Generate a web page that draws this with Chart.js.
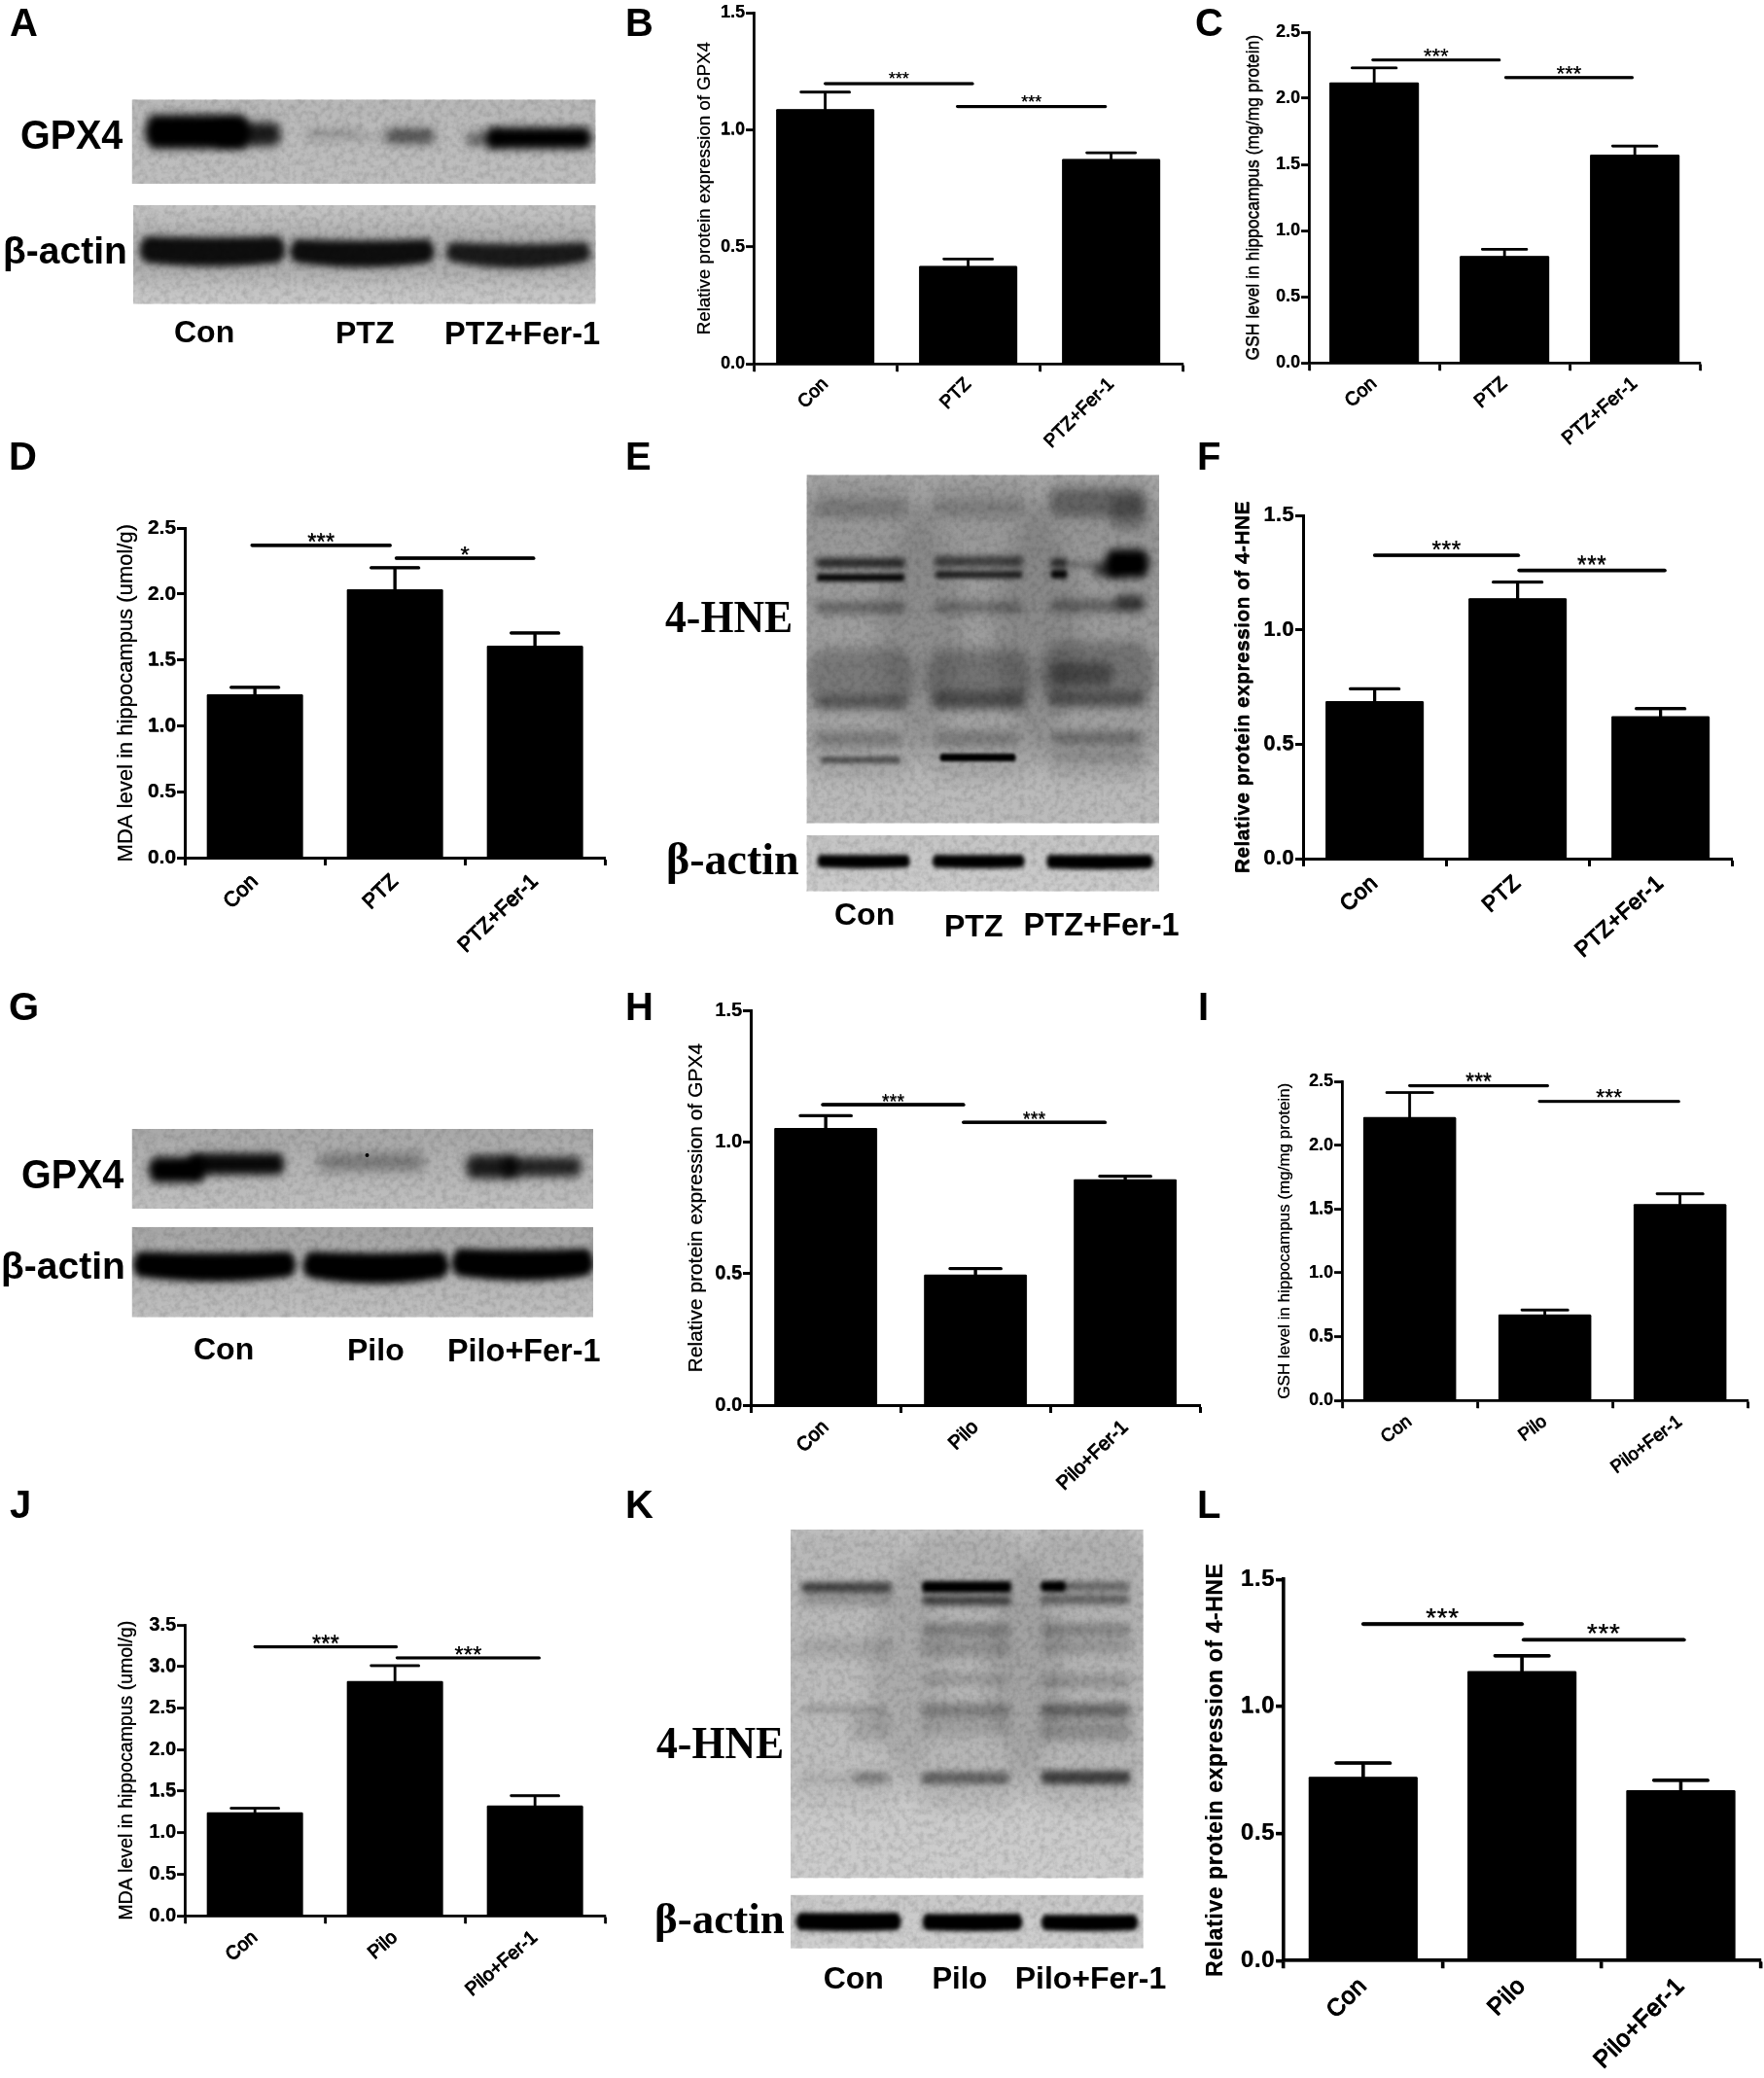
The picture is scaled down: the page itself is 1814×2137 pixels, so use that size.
<!DOCTYPE html>
<html>
<head>
<meta charset="utf-8">
<script src="https://cdn.jsdelivr.net/npm/chart.js@4"></script>
<style>
html, body { margin: 0; background: #fff; }
#page { position: relative; width: 1814px; height: 2137px; overflow: hidden; background: #fff; }
#page canvas, #page svg { position: absolute; display: block; }
.lbl { position: absolute; white-space: nowrap; color: #000; line-height: 1; transform-origin: 0 100%; }
</style>
</head>
<body>
<div id="page"><canvas id="blots" width="1814" height="2137" style="left:0;top:0"></canvas></div>
<svg width="0" height="0" style="left:0;top:0"><filter id="grain" x="0" y="0" width="100%" height="100%">
  <feTurbulence type="fractalNoise" baseFrequency="0.16" numOctaves="3" seed="7"/>
  <feColorMatrix type="matrix" values="0 0 0 0 0  0 0 0 0 0  0 0 0 0 0  0 0 0 1.6 -0.62"/>
  <feGaussianBlur stdDeviation="0.7"/>
</filter></svg>
<script>
const groupsPtz = ['Con', 'PTZ', 'PTZ+Fer-1'];
const groupsPilo = ['Con', 'Pilo', 'Pilo+Fer-1'];

// bar heights and the top of each error bar
const gpx4PtzMeans = [1.088, 0.418, 0.875];
const gpx4PtzTops = [1.161, 0.448, 0.902];
const gshPtzMeans = [2.12, 0.807, 1.573];
const gshPtzTops = [2.23, 0.859, 1.639];
const mdaPtzMeans = [1.239, 2.036, 1.607];
const mdaPtzTops = [1.293, 2.2, 1.705];
const hnePtzMeans = [0.688, 1.138, 0.622];
const hnePtzTops = [0.743, 1.209, 0.656];
const gpx4PiloMeans = [1.053, 0.496, 0.858];
const gpx4PiloTops = [1.1, 0.519, 0.87];
const gshPiloMeans = [2.219, 0.672, 1.537];
const gshPiloTops = [2.413, 0.708, 1.619];
const mdaPiloMeans = [1.245, 2.824, 1.325];
const mdaPiloTops = [1.294, 3.01, 1.445];
const hnePiloMeans = [0.722, 1.138, 0.67];
const hnePiloTops = [0.777, 1.199, 0.709];

// significance bars: [from category, to category, level, stars]
const gpx4PtzSig = [[0, 1.03, 1.197, '***'], [0.925, 1.96, 1.099, '***']];
const gshPtzSig = [[-0.01, 0.96, 2.29, '***'], [1.01, 1.98, 2.157, '***']];
const mdaPtzSig = [[-0.02, 0.965, 2.37, '***'], [1.01, 1.99, 2.272, '*']];
const hnePtzSig = [[0, 1.005, 1.326, '***'], [1.01, 2.03, 1.26, '***']];
const gpx4PiloSig = [[-0.02, 0.92, 1.142, '***'], [0.92, 1.865, 1.075, '***']];
const gshPiloSig = [[0, 1.02, 2.466, '***'], [0.96, 1.99, 2.343, '***']];
const mdaPiloSig = [[0, 1.01, 3.237, '***'], [1.015, 2.03, 3.104, '***']];
const hnePiloSig = [[0, 1, 1.324, '***'], [1.01, 2.02, 1.262, '***']];

const titleGpx4 = 'Relative protein expression of GPX4';
const titleHne = 'Relative protein expression of 4-HNE';
const titleGsh = 'GSH level in hippocampus (mg/mg protein)';
const titleMda = 'MDA level in hippocampus (umol/g)';

const page = document.getElementById('page');
const Y_AXIS_W = 120, X_AXIS_H = 130, PAD_TOP = 22, PAD_RIGHT = 8;
Chart.defaults.font.family = '"Liberation Sans", Arial, sans-serif';
Chart.defaults.color = '#000';

function panelMarks(p) {
    return {
        id: 'panelMarks',
        beforeDraw(chart) {
            const ctx = chart.ctx;
            ctx.letterSpacing = (p.spacing || 0) + 'px';
            // the source figure is soft and heavy, a small shadow thickens the thin text
            ctx.shadowColor = 'rgba(0,0,0,0.75)';
            ctx.shadowOffsetX = 0.35;
            ctx.shadowOffsetY = 0.35;
            ctx.shadowBlur = 0.4;
        },
        afterDatasetsDraw(chart) {
            const { ctx, scales: { x, y } } = chart;
            const step = x.getPixelForValue(1) - x.getPixelForValue(0);
            ctx.save();
            ctx.strokeStyle = '#000';
            ctx.lineCap = 'round';
            ctx.lineWidth = p.line;
            p.tops.forEach((top, i) => {
                const px = x.getPixelForValue(i);
                const yTop = y.getPixelForValue(top);
                ctx.beginPath();
                ctx.moveTo(px, y.getPixelForValue(p.means[i]));
                ctx.lineTo(px, yTop);
                ctx.moveTo(px - step * 0.17, yTop);
                ctx.lineTo(px + step * 0.17, yTop);
                ctx.stroke();
            });
            ctx.fillStyle = '#000';
            ctx.textAlign = 'center';
            ctx.textBaseline = 'alphabetic';
            ctx.font = p.starSize + 'px "Liberation Sans"';
            p.sig.forEach(([from, to, level, stars]) => {
                const x0 = x.getPixelForValue(from);
                const x1 = x.getPixelForValue(to);
                const py = y.getPixelForValue(level);
                ctx.lineWidth = p.line + 0.3;
                ctx.beginPath();
                ctx.moveTo(x0, py);
                ctx.lineTo(x1, py);
                ctx.stroke();
                ctx.fillText(stars, (x0 + x1) / 2, py + p.starDrop);
            });
            ctx.restore();
        },
    };
}

function addPanel(p) {
    const left = p.axisX - Y_AXIS_W;
    const top = p.topY - PAD_TOP;
    const canvas = document.createElement('canvas');
    canvas.width = Y_AXIS_W + (p.endX - p.axisX) + PAD_RIGHT;
    canvas.height = PAD_TOP + (p.baseY - p.topY) + X_AXIS_H;
    canvas.style.left = left + 'px';
    canvas.style.top = top + 'px';
    page.appendChild(canvas);
    const titleLine = p.titleSize * 1.2;

    new Chart(canvas, {
        type: 'bar',
        data: {
            labels: p.labels,
            datasets: [{
                data: p.means,
                backgroundColor: '#000',
                barPercentage: 0.685,
                categoryPercentage: 1,
                borderRadius: 1,
            }],
        },
        options: {
            responsive: false,
            animation: false,
            layout: { padding: { top: PAD_TOP, right: PAD_RIGHT, left: 0, bottom: 0 } },
            plugins: { legend: { display: false }, tooltip: { enabled: false }, title: { display: false } },
            scales: {
                x: {
                    afterFit: scale => { scale.height = X_AXIS_H; },
                    border: { color: '#000', width: p.line },
                    grid: { display: true, drawOnChartArea: false, color: '#000', tickColor: '#000', tickLength: 8, tickWidth: p.line },
                    ticks: {
                        color: '#000',
                        autoSkip: false,
                        minRotation: p.rotation,
                        maxRotation: p.rotation,
                        padding: p.xPad,
                        textStrokeColor: '#000',
                        textStrokeWidth: p.xStroke,
                        font: { size: p.xSize },
                    },
                },
                y: {
                    min: 0,
                    max: p.yMax,
                    afterFit: scale => { scale.width = Y_AXIS_W; },
                    border: { color: '#000', width: p.line },
                    grid: { display: true, drawOnChartArea: false, color: '#000', tickColor: '#000', tickLength: 8, tickWidth: p.line },
                    ticks: {
                        color: '#000',
                        stepSize: 0.5,
                        padding: 1,
                        font: { size: p.ySize, weight: 'bold' },
                        callback: v => v.toFixed(1),
                    },
                    title: {
                        display: true,
                        text: p.title,
                        color: '#000',
                        font: { size: p.titleSize, weight: p.titleWeight || 'normal' },
                        padding: { top: p.titleX - left - titleLine / 2, bottom: 0 },
                    },
                },
            },
        },
        plugins: [panelMarks(p)],
    });
}

addPanel({ labels: groupsPtz, means: gpx4PtzMeans, tops: gpx4PtzTops, sig: gpx4PtzSig, yMax: 1.5, title: titleGpx4,
    axisX: 775, endX: 1216, topY: 12.7, baseY: 374, titleX: 724.6, titleSize: 18.7, ySize: 18, xSize: 19, xStroke: 0.5, rotation: 45, xPad: 2, line: 2.5, starSize: 18, starDrop: 1 });
addPanel({ labels: groupsPtz, means: gshPtzMeans, tops: gshPtzTops, sig: gshPtzSig, yMax: 2.5, title: titleGsh,
    axisX: 1346, endX: 1748, topY: 33.3, baseY: 374, titleX: 1289.4, titleSize: 17.5, ySize: 18, xSize: 19.5, xStroke: 0.5, rotation: 41, xPad: 2, line: 2.5, starSize: 22, starDrop: 3.5 });
addPanel({ labels: groupsPtz, means: mdaPtzMeans, tops: mdaPtzTops, sig: mdaPtzSig, yMax: 2.5, title: titleMda,
    axisX: 190, endX: 622, topY: 542.7, baseY: 882.3, titleX: 129.8, titleSize: 22, ySize: 21, xSize: 21.5, xStroke: 0.7, rotation: 44, xPad: 4, line: 3, starSize: 24, starDrop: 4.6 });
addPanel({ labels: groupsPtz, means: hnePtzMeans, tops: hnePtzTops, sig: hnePtzSig, yMax: 1.5, title: titleHne,
    axisX: 1339.6, endX: 1781, topY: 530, baseY: 883.6, titleX: 1278, titleSize: 21, titleWeight: 'bold', spacing: 0.4, ySize: 22, xSize: 22.5, xStroke: 0.8, rotation: 42, xPad: 4, line: 3, starSize: 25, starDrop: 3 });
addPanel({ labels: groupsPilo, means: gpx4PiloMeans, tops: gpx4PiloTops, sig: gpx4PiloSig, yMax: 1.5, title: titleGpx4,
    axisX: 771.8, endX: 1234, topY: 1039.3, baseY: 1445.6, titleX: 715.7, titleSize: 21, ySize: 20, xSize: 20, xStroke: 0.6, rotation: 44, xPad: 3, line: 3, starSize: 20, starDrop: 3.4 });
addPanel({ labels: groupsPilo, means: gshPiloMeans, tops: gshPiloTops, sig: gshPiloSig, yMax: 2.5, title: titleGsh,
    axisX: 1379.5, endX: 1797, topY: 1112.3, baseY: 1440.5, titleX: 1320.5, titleSize: 17, ySize: 18, xSize: 18.5, xStroke: 0.5, rotation: 37, xPad: 3, line: 2.5, starSize: 23, starDrop: 4 });
addPanel({ labels: groupsPilo, means: mdaPiloMeans, tops: mdaPiloTops, sig: mdaPiloSig, yMax: 3.5, title: titleMda,
    axisX: 190, endX: 622, topY: 1671, baseY: 1970.7, titleX: 130.6, titleSize: 19.5, ySize: 20, xSize: 19.5, xStroke: 0.6, rotation: 41, xPad: 3, line: 2.5, starSize: 24, starDrop: 5 });
addPanel({ labels: groupsPilo, means: hnePiloMeans, tops: hnePiloTops, sig: hnePiloSig, yMax: 1.5, title: titleHne,
    axisX: 1319.6, endX: 1810, topY: 1623.5, baseY: 2016, titleX: 1250, titleSize: 23, titleWeight: 'bold', spacing: 0.6, ySize: 24, xSize: 24.5, xStroke: 0.9, rotation: 45, xPad: 4, line: 3.3, starSize: 28, starDrop: 2.7 });

// blot pictures: each band is [x0, x1, y0, y1, darkness, blur, curve]
const blotPictures = [
    { box: [135.5, 102.3, 612.6, 189], shade: ['#b8b8b8', '#bfbfbf'], bands: [
        [156, 250, 118, 153, 1, 4, 0], [225, 284, 126, 150, 0.85, 5, 0],
        [316, 368, 133, 143, 0.2, 5, 0], [368, 400, 138, 145, 0.1, 4, 0], [400, 444, 132, 148, 0.55, 5, 0],
        [482, 515, 136, 150, 0.45, 5, 0], [504, 604, 131, 153, 1, 4, 0],
    ] },
    { box: [137, 211, 612.6, 312.7], shade: ['#c2c2c2', '#c8c8c8'], bands: [
        [137, 612, 232, 290, 0.12, 9, 0],
        [150, 287, 243, 274, 0.92, 3.5, 4], [304, 441, 246, 275, 0.92, 3.5, 5], [464, 602, 249, 276, 0.85, 3.5, 7],
    ] },
    { box: [829.4, 488.3, 1192, 846.7], shade: ['#a6a6a6', '#bcbcbc'], bands: [
        [841, 929, 495, 800, 0.1, 8, 0], [963, 1050, 495, 800, 0.1, 8, 0], [1082, 1174, 495, 800, 0.12, 8, 0],
        [841, 929, 513, 532, 0.2, 5, 0], [963, 1050, 513, 532, 0.16, 5, 0], [1085, 1172, 503, 532, 0.33, 5, 0], [1148, 1172, 510, 545, 0.25, 5, 0],
        [841, 929, 574, 584, 0.75, 3, 0], [841, 929, 590, 598, 0.95, 2.2, 0], [963, 1050, 572, 583, 0.6, 3, 0], [963, 1050, 587, 595, 0.75, 2.2, 0],
        [1082, 1096, 574, 584, 0.7, 3, 0], [1082, 1096, 586, 595, 0.95, 2.2, 0], [1100, 1130, 578, 584, 0.3, 3, 0],
        [1142, 1176, 565, 594, 1, 4, 0], [1128, 1150, 579, 593, 0.65, 4, 0],
        [841, 929, 619, 631, 0.36, 4, 0], [963, 1050, 619, 630, 0.32, 4, 0], [1082, 1174, 617, 629, 0.38, 4, 0], [1150, 1174, 611, 627, 0.5, 4, 0],
        [841, 929, 667, 727, 0.24, 6, 0], [841, 929, 715, 729, 0.32, 4, 0], [963, 1050, 668, 727, 0.28, 6, 0], [963, 1050, 711, 729, 0.36, 4, 0],
        [1082, 1174, 660, 727, 0.26, 6, 0], [1084, 1140, 681, 705, 0.38, 5, 0], [1082, 1174, 711, 726, 0.32, 4, 0],
        [841, 925, 752, 768, 0.24, 4, 0], [963, 1045, 751, 768, 0.24, 4, 0], [1084, 1172, 752, 766, 0.32, 4, 0], [1084, 1172, 771, 783, 0.14, 4, 0],
        [845, 925, 778, 785, 0.5, 2, 0], [968, 1043, 775, 783, 1, 1.6, 0],
    ] },
    { box: [829.4, 859, 1192, 916.7], shade: ['#c4c4c4', '#cccccc'], bands: [
        [843, 933, 879, 893, 1, 2, 1], [961.5, 1051, 879, 893, 1, 2, 1], [1079, 1183, 879, 894, 1, 2, 1],
    ] },
    { box: [135.5, 1161, 610, 1243], shade: ['#a8a8a8', '#c0c0c0'], bands: [
        [158, 206, 1190, 1216, 1, 4, 0], [198, 288, 1186, 1208, 0.95, 4, 0],
        [331, 433, 1186, 1204, 0.32, 6, 0],
        [484, 528, 1188, 1212, 0.85, 5, 0], [520, 594, 1190, 1210, 0.8, 5, 0],
    ] },
    { box: [135.5, 1261.7, 610, 1354.7], shade: ['#a5a5a5', '#c0c0c0'], bands: [
        [143, 298, 1287, 1318, 1, 3.5, 5], [318, 455, 1287, 1320, 1, 3.5, 6], [471, 604, 1284, 1317, 1, 3.5, 5],
    ] },
    { box: [813, 1573, 1175.8, 1931.5], shade: ['#c2c2c2', '#cdcdcd'], bands: [
        [825, 915, 1575, 1860, 0.05, 8, 0], [950, 1038, 1575, 1860, 0.09, 8, 0], [1072, 1160, 1575, 1860, 0.09, 8, 0],
        [826, 915, 1627, 1638, 0.65, 3, 0], [826, 915, 1640, 1651, 0.22, 4, 0], [826, 915, 1685, 1704, 0.1, 5, 0],
        [826, 910, 1754, 1762, 0.18, 3, 0], [880, 910, 1762, 1790, 0.12, 5, 0], [880, 912, 1823, 1834, 0.38, 4, 0], [826, 880, 1824, 1834, 0.09, 4, 0],
        [950, 1038, 1626, 1638, 1, 2.2, 0], [950, 1038, 1641, 1651, 0.65, 3, 0], [950, 1036, 1670, 1682, 0.3, 4, 0], [950, 1036, 1685, 1704, 0.18, 5, 0],
        [950, 1036, 1722, 1732, 0.16, 4, 0], [950, 1036, 1752, 1766, 0.3, 4, 0], [950, 1036, 1768, 1785, 0.12, 5, 0], [950, 1036, 1822, 1835, 0.45, 3, 0],
        [1072, 1094, 1626, 1637, 1, 2.2, 0], [1088, 1160, 1627, 1636, 0.45, 3, 0], [1072, 1160, 1640, 1650, 0.45, 3, 0],
        [1073, 1160, 1670, 1682, 0.28, 4, 0], [1073, 1160, 1686, 1700, 0.18, 5, 0], [1073, 1160, 1722, 1736, 0.18, 4, 0],
        [1073, 1160, 1752, 1766, 0.45, 4, 0], [1073, 1160, 1770, 1790, 0.22, 5, 0], [1073, 1160, 1821, 1835, 0.65, 3, 0],
    ] },
    { box: [813, 1948.6, 1175.8, 2003.8], shade: ['#c8c8c8', '#cfcfcf'], bands: [
        [822, 923, 1967, 1986, 1, 2.2, 1], [952, 1048, 1968, 1986, 1, 2.2, 1], [1074, 1167, 1969, 1986, 1, 2.2, 1],
    ] },
];

function drawBand(ctx, [x0, x1, y0, y1, dark, blur, curve]) {
    const mid = (x0 + x1) / 2;
    const midY = (y0 + y1) / 2;
    const bulge = (y1 - y0) * 0.4;
    ctx.filter = `blur(${blur}px)`;
    ctx.fillStyle = `rgba(0,0,0,${dark})`;
    ctx.beginPath();
    ctx.moveTo(x0, y0);
    ctx.quadraticCurveTo(mid, y0 + curve * 0.6, x1, y0);
    ctx.quadraticCurveTo(x1 + bulge, midY, x1, y1 - curve);
    ctx.quadraticCurveTo(mid, y1 + curve, x0, y1 - curve);
    ctx.quadraticCurveTo(x0 - bulge, midY, x0, y0);
    ctx.closePath();
    ctx.fill();
}

const blotCtx = document.getElementById('blots').getContext('2d');
blotPictures.forEach(({ box: [x0, y0, x1, y1], shade, bands }) => {
    blotCtx.save();
    blotCtx.beginPath();
    blotCtx.rect(x0, y0, x1 - x0, y1 - y0);
    blotCtx.clip();
    const fill = blotCtx.createLinearGradient(0, y0, 0, y1);
    fill.addColorStop(0, shade[0]);
    fill.addColorStop(1, shade[1]);
    blotCtx.fillStyle = fill;
    blotCtx.fillRect(x0, y0, x1 - x0, y1 - y0);
    bands.forEach(band => drawBand(blotCtx, band));
    blotCtx.restore();

    // film grain over the blot
    const grain = document.createElementNS('http://www.w3.org/2000/svg', 'svg');
    grain.setAttribute('width', x1 - x0);
    grain.setAttribute('height', y1 - y0);
    grain.style.left = x0 + 'px';
    grain.style.top = y0 + 'px';
    grain.style.opacity = 0.16;
    grain.innerHTML = '<rect width="100%" height="100%" filter="url(#grain)"/>';
    page.appendChild(grain);
});

// speck on the GPX4 (Pilo) blot
blotCtx.fillStyle = '#000';
blotCtx.beginPath();
blotCtx.arc(377.5, 1188, 2, 0, Math.PI * 2);
blotCtx.fill();

// text: [string, left, baseline, size, stretch, family]
const SANS = '"Liberation Sans"', SERIF = '"Liberation Serif"';
const pageLabels = [
    ['A', 10, 37, 40, 1, SANS], ['B', 643, 37, 40, 1, SANS], ['C', 1229, 37, 40, 1, SANS],
    ['D', 9, 483, 40, 1, SANS], ['E', 643, 483, 40, 1, SANS], ['F', 1231, 483, 40, 1, SANS],
    ['G', 9, 1049, 40, 1, SANS], ['H', 643, 1049, 40, 1, SANS], ['I', 1232, 1049, 40, 1, SANS],
    ['J', 10, 1561, 40, 1, SANS], ['K', 643, 1561, 40, 1, SANS], ['L', 1231, 1561, 40, 1, SANS],
    ['GPX4', 21, 153, 42, 0.94, SANS], ['β-actin', 3, 271, 39, 1, SANS],
    ['Con', 179, 352, 32, 1, SANS], ['PTZ', 345, 352.7, 32, 1, SANS], ['PTZ+Fer-1', 457, 354, 32.6, 1, SANS],
    ['4-HNE', 684, 651, 46, 0.95, SERIF], ['β-actin', 685, 900, 46, 1, SERIF],
    ['Con', 858, 950.7, 32, 1, SANS], ['PTZ', 971, 962.7, 32, 1, SANS], ['PTZ+Fer-1', 1052.5, 962.7, 32.6, 1, SANS],
    ['GPX4', 22.4, 1222, 42, 0.94, SANS], ['β-actin', 1, 1315, 39, 1, SANS],
    ['Con', 199, 1398, 32, 1, SANS], ['Pilo', 357, 1399.3, 32, 1, SANS], ['Pilo+Fer-1', 460, 1400, 32.4, 1, SANS],
    ['4-HNE', 675, 1808.5, 46, 0.95, SERIF], ['β-actin', 673, 1988.6, 45, 1, SERIF],
    ['Con', 846.7, 2044.6, 32, 1, SANS], ['Pilo', 958.4, 2044.6, 31, 1, SANS], ['Pilo+Fer-1', 1043.7, 2045, 32, 1, SANS],
];
pageLabels.forEach(([text, x, base, size, stretch, family]) => {
    const el = document.createElement('div');
    el.className = 'lbl';
    el.textContent = text;
    el.style.font = `bold ${size}px/1 ${family}`;
    el.style.left = x + 'px';
    // in a 1em line box the baseline of these faces sits about 0.84em down
    el.style.top = (base - size * 0.84) + 'px';
    el.style.transform = `scaleX(${stretch})`;
    page.appendChild(el);
});
</script>
</body>
</html>
